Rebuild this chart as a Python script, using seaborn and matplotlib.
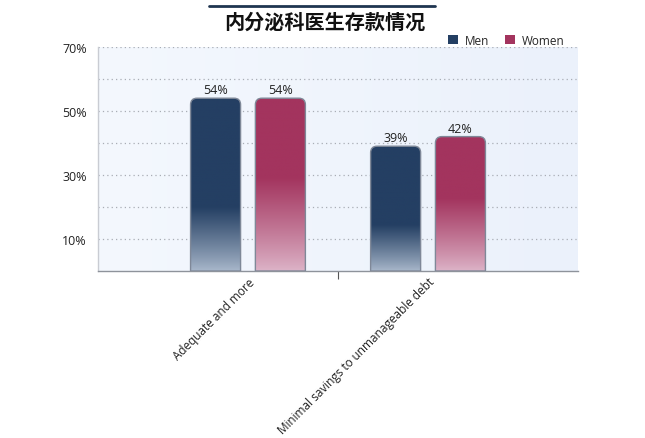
import numpy as np
import pandas as pd
import matplotlib
matplotlib.use("Agg")
import matplotlib.pyplot as plt
import seaborn as sns
from matplotlib.path import Path
from matplotlib.patches import PathPatch, Patch
from matplotlib.colors import to_rgb
from matplotlib.lines import Line2D

# ---- data ----
categories = ["Adequate and more", "Minimal savings to unmanageable debt"]
series = ["Men", "Women"]
men_values = [54, 39]
women_values = [54, 42]
title = "内分泌科医生存款情况"
y_ticks = [10, 30, 50, 70]

df = pd.DataFrame({
    "category": categories * 2,
    "gender": ["Men"] * len(categories) + ["Women"] * len(categories),
    "value": men_values + women_values,
})

top_colors = {"Men": "#243f63", "Women": "#a3345e"}
bottom_colors = {"Men": "#a9b8cb", "Women": "#ddb4c8"}
fade_start = {"Men": 0.37, "Women": 0.54}  # fraction of bar height where fade begins

sns.set_theme(style="white")
plt.rcParams["font.family"] = ["Open Sans", "DejaVu Sans"]

fig = plt.figure(figsize=(6.45, 4.39), dpi=100)
ax = fig.add_axes([98 / 645, 1 - 272 / 439, 480 / 645, 224 / 439])

sns.barplot(data=df, x="category", y="value", hue="gender", order=categories,
            hue_order=series, palette=top_colors, width=0.72, ax=ax,
            legend=False, errorbar=None)

ax.set_xlim(-0.833, 1.833)
ax.set_ylim(0, 70)

# background gradient
bg = np.linspace(0, 1, 256)[None, :, None]
c1 = np.array(to_rgb("#f4f8fe"))
c2 = np.array(to_rgb("#ebf1fb"))
bgimg = c1 * (1 - bg) + c2 * bg
ax.imshow(bgimg, extent=[-0.833, 1.833, 0, 70], aspect="auto", zorder=0)

# grid
for v in range(10, 71, 10):
    ax.axhline(v, color="#a9adb5", lw=0.9, ls=(0, (1, 2.5)), zorder=1)

px_x = 180.0       # pixels per x unit
px_y = 224.0 / 70  # pixels per y unit
bar_w = 50 / px_x
r_px = 6.5

def rounded_top_path(x0, w, h):
    rx = r_px / px_x
    ry = r_px / px_y
    x1 = x0 + w
    verts = [(x0, 0), (x0, h - ry), (x0, h), (x0 + rx, h), (x1 - rx, h),
             (x1, h), (x1, h - ry), (x1, 0), (x0, 0)]
    codes = [Path.MOVETO, Path.LINETO, Path.CURVE3, Path.CURVE3, Path.LINETO,
             Path.CURVE3, Path.CURVE3, Path.LINETO, Path.CLOSEPOLY]
    return Path(verts, codes)

patches = list(ax.patches)
hue_seq = []
for g in series:
    hue_seq += [g] * len(categories)

for p, g in zip(patches, hue_seq):
    cx = p.get_x() + p.get_width() / 2
    h = p.get_height()
    p.set_visible(False)
    x0 = cx - bar_w / 2
    path = rounded_top_path(x0, bar_w, h)
    n = 256
    t = np.linspace(0, 1, n)  # 0 bottom -> 1 top
    fs = fade_start[g]
    f = np.clip(t / fs, 0, 1) ** 0.9
    top = np.array(to_rgb(top_colors[g]))
    bot = np.array(to_rgb(bottom_colors[g]))
    col = bot[None, :] * (1 - f[:, None]) + top[None, :] * f[:, None]
    img = col[::-1][:, None, :]
    im = ax.imshow(img, extent=[x0, x0 + bar_w, 0, h], aspect="auto", zorder=3)
    edge = PathPatch(path, facecolor="none", edgecolor="#7f8898", lw=1.0, zorder=4)
    ax.add_patch(edge)
    im.set_clip_path(edge)
    ax.text(cx, h + 0.6, f"{h:.0f}%", ha="center", va="bottom", fontsize=9,
            color="#222222", zorder=5)

ax.set_xlim(-0.833, 1.833)
ax.set_ylim(0, 70)

# axes styling
for s in ["top", "right"]:
    ax.spines[s].set_visible(False)
ax.spines["left"].set_color("#c9ccd3")
ax.spines["left"].set_linewidth(1.0)
ax.spines["bottom"].set_color("#8e939b")
ax.spines["bottom"].set_linewidth(1.0)

ax.set_yticks(y_ticks)
ax.set_yticklabels([f"{v}%" for v in y_ticks], fontsize=9, color="#222222")
ax.tick_params(axis="y", length=0, pad=8)
ax.set_xticks(range(len(categories)))
ax.set_xticklabels(categories, rotation=45, ha="right", rotation_mode="anchor",
                   fontsize=8.5, color="#222222")
ax.tick_params(axis="x", length=0, pad=3)
ax.set_xticks([0.5], minor=True)
ax.tick_params(axis="x", which="minor", length=6, width=0.8, color="#555555",
               direction="out", bottom=True)
ax.set_xlabel("")
ax.set_ylabel("")

# legend
handles = [Patch(facecolor=top_colors[g], edgecolor="none", label=g) for g in series]
leg = ax.legend(handles=handles, loc="center right", bbox_to_anchor=(0.972, 1.031),
                ncol=2, frameon=False, fontsize=8.5, handlelength=0.85,
                handleheight=0.85, handletextpad=0.6, columnspacing=1.3,
                borderaxespad=0, borderpad=0)

# title and line
fig.text(325 / 645, 1 - 22 / 439, title, ha="center", va="center", fontsize=14.5,
         fontweight="bold", family=["Noto Sans CJK SC", "DejaVu Sans"], color="#111111")
fig.add_artist(Line2D([209 / 645, 435 / 645], [1 - 7 / 439, 1 - 7 / 439],
                      color="#1f3550", lw=2.0, transform=fig.transFigure))

fig.savefig("out.png", dpi=100)
